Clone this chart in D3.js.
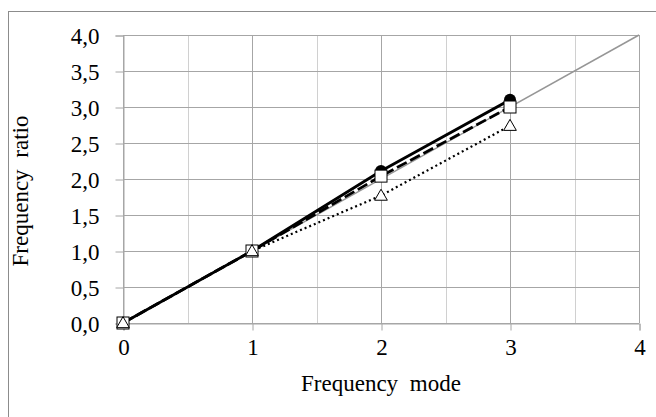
<!DOCTYPE html>
<html>
<head>
<meta charset="utf-8">
<script src="https://cdn.jsdelivr.net/npm/d3@7"></script>
<style>
  body { margin: 0; background: #fff; }
  svg text { font-family: 'Liberation Serif', Tinos, 'Times New Roman', Times, 'DejaVu Serif', serif; fill: #000; }
</style>
</head>
<body>
<div id="chart"></div>
<script>
const modes = [0, 1, 2, 3];
const solidSeries = [0, 1, 2.11, 3.1];
const dashedSeries = [0, 1, 2.04, 3.0];
const dottedSeries = [0, 1, 1.77, 2.74];
const referenceLine = [[0, 0], [4, 4]];
const xTicks = [0, 1, 2, 3, 4];
const yTicks = [0, 0.5, 1, 1.5, 2, 2.5, 3, 3.5, 4];

const chartWidth = 656;
const chartHeight = 417;
const plotLeft = 123, plotRight = 639, plotTop = 35, plotBottom = 323;
const serif = "'Liberation Serif', Tinos, 'Times New Roman', Times, 'DejaVu Serif', serif";

const xScale = d3.scaleLinear().domain([0, 4]).range([plotLeft, plotRight]);
const yScale = d3.scaleLinear().domain([0, 4]).range([plotBottom, plotTop]);

const chart = d3.select('#chart')
  .append('svg')
  .attr('width', chartWidth)
  .attr('height', chartHeight);

// outer frame
chart.append('rect')
  .attr('x', 8.5).attr('y', 11.5)
  .attr('width', 700).attr('height', 500)
  .attr('fill', 'none').attr('stroke', '#8c8c8c').attr('stroke-width', 1);

// grid
const xGrid = d3.range(0, 4.01, 0.5);
chart.append('g')
  .selectAll('line')
  .data(xGrid)
  .enter()
  .append('line')
  .attr('x1', d => Math.round(xScale(d)) + 0.5)
  .attr('x2', d => Math.round(xScale(d)) + 0.5)
  .attr('y1', plotTop).attr('y2', plotBottom)
  .attr('stroke', d => d % 1 === 0 ? '#a6a6a6' : '#d0d0d0');

chart.append('g')
  .selectAll('line')
  .data(yTicks)
  .enter()
  .append('line')
  .attr('x1', plotLeft).attr('x2', plotRight)
  .attr('y1', d => Math.round(yScale(d)) + 0.5)
  .attr('y2', d => Math.round(yScale(d)) + 0.5)
  .attr('stroke', '#a6a6a6');

// axes
const xAxis = d3.axisBottom(xScale)
  .tickValues(xTicks)
  .tickSize(7)
  .tickPadding(8)
  .tickFormat(d3.format('d'));
const gx = chart.append('g')
  .attr('class', 'x-axis')
  .attr('transform', `translate(0.5, ${plotBottom + 0.5})`)
  .call(xAxis);

const yAxis = d3.axisLeft(yScale)
  .tickValues(yTicks)
  .tickSize(8)
  .tickPadding(16)
  .tickFormat(d => d3.format('.1f')(d).replace('.', ','));
const gy = chart.append('g')
  .attr('class', 'y-axis')
  .attr('transform', `translate(${plotLeft + 0.5}, 0.5)`)
  .call(yAxis);

[gx, gy].forEach(g => {
  g.attr('font-family', serif).attr('font-size', 23);
  g.select('.domain').attr('stroke', '#a6a6a6');
  g.selectAll('.tick line').attr('stroke', '#a6a6a6');
  g.selectAll('text').attr('fill', '#000');
});
gy.selectAll('text').attr('dy', '0.35em');

// reference line
const line = d3.line().x(d => xScale(d[0])).y(d => yScale(d[1]));
chart.append('path')
  .datum(referenceLine)
  .attr('d', line)
  .attr('fill', 'none')
  .attr('stroke', '#969696')
  .attr('stroke-width', 1.5);

const toPts = vals => modes.map((m, i) => [m, vals[i]]);

chart.append('path')
  .datum(toPts(dottedSeries))
  .attr('d', line)
  .attr('fill', 'none')
  .attr('stroke', '#000')
  .attr('stroke-width', 2.2)
  .attr('stroke-dasharray', '2,3');

chart.append('path')
  .datum(toPts(dashedSeries))
  .attr('d', line)
  .attr('fill', 'none')
  .attr('stroke', '#000')
  .attr('stroke-width', 2.8)
  .attr('stroke-dasharray', '11,4');

chart.append('path')
  .datum(toPts(solidSeries))
  .attr('d', line)
  .attr('fill', 'none')
  .attr('stroke', '#000')
  .attr('stroke-width', 2.8);

// markers
chart.append('g')
  .selectAll('circle')
  .data(toPts(solidSeries))
  .enter()
  .append('circle')
  .attr('cx', d => xScale(d[0]))
  .attr('cy', d => yScale(d[1]))
  .attr('r', 6)
  .attr('fill', '#000');

chart.append('g')
  .selectAll('rect')
  .data(toPts(dashedSeries))
  .enter()
  .append('rect')
  .attr('x', d => xScale(d[0]) - 6)
  .attr('y', d => yScale(d[1]) - 6)
  .attr('width', 12)
  .attr('height', 12)
  .attr('fill', '#fff')
  .attr('stroke', '#000')
  .attr('stroke-width', 1);

const tri = d3.symbol().type(d3.symbolTriangle).size(70);
chart.append('g')
  .selectAll('path')
  .data(toPts(dottedSeries))
  .enter()
  .append('path')
  .attr('d', tri)
  .attr('transform', d => `translate(${xScale(d[0])}, ${yScale(d[1]) + 1})`)
  .attr('fill', '#fff')
  .attr('stroke', '#000')
  .attr('stroke-width', 1);

// titles
chart.append('text')
  .attr('x', (plotLeft + plotRight) / 2)
  .attr('y', 391)
  .attr('text-anchor', 'middle')
  .attr('font-family', serif)
  .attr('font-size', 23)
  .style('word-spacing', '6px')
  .text('Frequency mode');

chart.append('text')
  .attr('transform', `translate(28, ${(plotTop + plotBottom) / 2 + 12}) rotate(-90)`)
  .attr('text-anchor', 'middle')
  .attr('font-family', serif)
  .attr('font-size', 23)
  .style('word-spacing', '6px')
  .text('Frequency ratio');
</script>
</body>
</html>
